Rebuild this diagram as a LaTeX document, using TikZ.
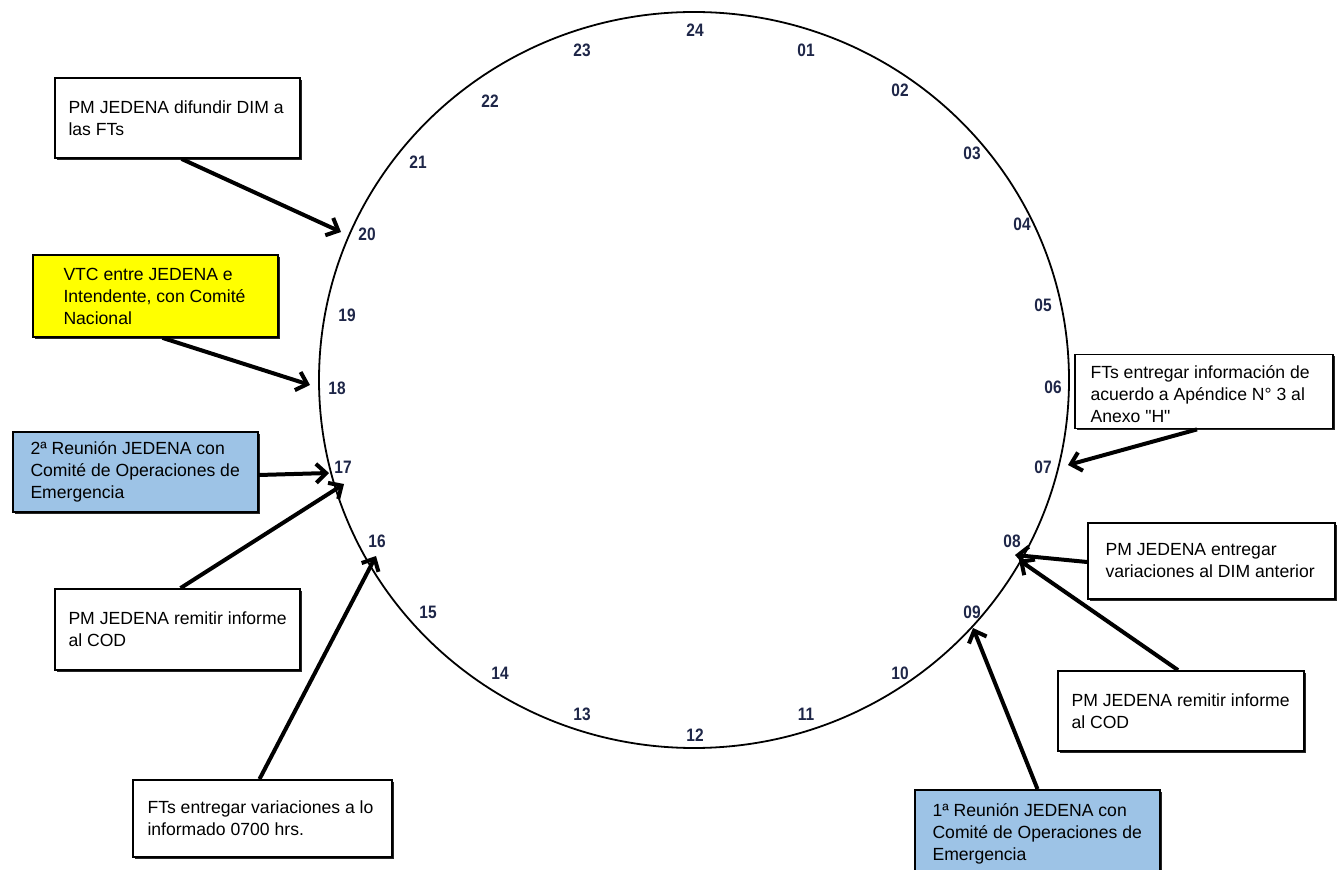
\documentclass[tikz,border=0pt]{standalone}
\usepackage{fontspec}
\setmainfont{Liberation Sans}
\newfontfamily\numfont[FakeStretch=0.86]{Liberation Sans}
\newfontfamily\plainfont{Liberation Sans}
\usetikzlibrary{arrows.meta,shadows,shapes.geometric}
\definecolor{boxblue}{RGB}{157,195,230}
\definecolor{boxyellow}{RGB}{255,255,0}
\definecolor{numcol}{RGB}{30,38,72}
\begin{document}
\begin{tikzpicture}[x=0.5pt,y=-0.5pt,
  box/.style={draw=black, line width=0.9pt, fill=white, inner sep=0pt,
    drop shadow={shadow xshift=0.9pt,shadow yshift=-0.9pt,fill=black,opacity=0.85}},
  txt/.style={anchor=west, align=left, inner sep=0pt, font=\fontsize{8.8}{11}\selectfont},
  num/.style={font=\numfont\bfseries\fontsize{9}{9}\selectfont, text=numcol, inner sep=0pt},
  arr/.style={line width=2pt, -{Straight Barb[length=5pt,width=9.5pt,line width=2pt]}}
]
\useasboundingbox[fill=white] (0,0) rectangle (1342,870);

% clock
\node[draw, line width=0.9pt, ellipse, inner sep=0pt, minimum width=375pt, minimum height=368pt] (clock) at (694,380) {};

% hour labels
\foreach \lab/\px/\py in {24/695/30, 01/806/50, 02/900/90, 03/972/153, 04/1022/224, 05/1043/305,
  06/1053/387, 07/1043/467, 08/1012/541, 09/972/612, 10/900/673, 11/806/714, 12/695/735,
  13/582/714, 14/500/673, 15/428/612, 16/377/541, 17/343/467, 18/337/388, 19/347/315,
  20/367/234, 21/418/162, 22/490/101, 23/582/50}
  \node[num] (n\lab) at (\px,\py) {\lab};

% boxes
\node[box, minimum width=122.5pt, minimum height=40pt] (b1) at (177.5,118) {};
\node[txt] (t1) at ([xshift=7pt]b1.west) {PM JEDENA difundir DIM a\\las FTs};

\node[box, fill=boxyellow, minimum width=122.5pt, minimum height=41pt] (b2) at (155.5,296) {};
\node[txt] (t2) at ([xshift=15.5pt]b2.west) {VTC entre JEDENA e\\Intendente, con Comité\\Nacional};

\node[box, fill=boxblue, minimum width=122.5pt, minimum height=40pt] (b3) at (135.5,472) {};
\node[txt] (t3) at ([xshift=9pt]b3.west) {2ª Reunión JEDENA con\\Comité de Operaciones de\\Emergencia};

\node[box, minimum width=122.5pt, minimum height=40.5pt] (b4) at (177.5,629.5) {};
\node[txt] (t4) at ([xshift=7pt]b4.west) {PM JEDENA remitir informe\\al COD};

\node[box, minimum width=129.5pt, minimum height=38.5pt] (b5) at (262.5,818.5) {};
\node[txt] (t5) at ([xshift=7.5pt]b5.west) {FTs entregar variaciones a lo\\informado 0700 hrs.};

\node[box, minimum width=129pt, minimum height=37pt] (b6) at (1204,391.5) {};
\node[txt] (t6) at ([xshift=8pt,yshift=-1.5pt]b6.west) {FTs entregar información de\\acuerdo a Apéndice N° 3 al\\Anexo {\plainfont "H"}};

\node[box, minimum width=123.5pt, minimum height=38pt] (b7) at (1211.5,561) {};
\node[txt] (t7) at ([xshift=9pt]b7.west) {PM JEDENA entregar\\variaciones al DIM anterior};

\node[box, minimum width=123pt, minimum height=40pt] (b8) at (1181,711) {};
\node[txt] (t8) at ([xshift=7pt]b8.west) {PM JEDENA remitir informe\\al COD};

\node[box, fill=boxblue, minimum width=122.5pt, minimum height=42.5pt] (b9) at (1037.5,832.5) {};
\node[txt] (t9) at ([xshift=9pt,yshift=-0.5pt]b9.west) {1ª Reunión JEDENA con\\Comité de Operaciones de\\Emergencia};

% arrow targets on the clock
\coordinate (e1) at (341,232);
\coordinate (e2) at (310,385);
\coordinate (e3) at (329,473);
\coordinate (e4) at (344,484);
\coordinate (e5) at (376,556);
\coordinate (e6) at (1068,465);
\coordinate (e7) at (1015,555);
\coordinate (e8) at (1019,560);
\coordinate (e9) at (973,628);

\draw[arr] ([xshift=2pt]b1.south) -- (e1);
\draw[arr] ([xshift=3.5pt]b2.south) -- (e2);
\draw[arr] ([yshift=-1.5pt]b3.east) -- (e3);
\draw[arr] ([xshift=1.5pt]b4.north) -- (e4);
\draw[arr] ([xshift=-1.5pt]b5.north) -- (e5);
\draw[arr] ([xshift=-3.5pt]b6.south) -- (e6);
\draw[arr] ([yshift=-0.5pt]b7.west) -- (e7);
\draw[arr] ([xshift=-1.5pt]b8.north) -- (e8);
\draw[arr] (b9.north) -- (e9);
\end{tikzpicture}
\end{document}
